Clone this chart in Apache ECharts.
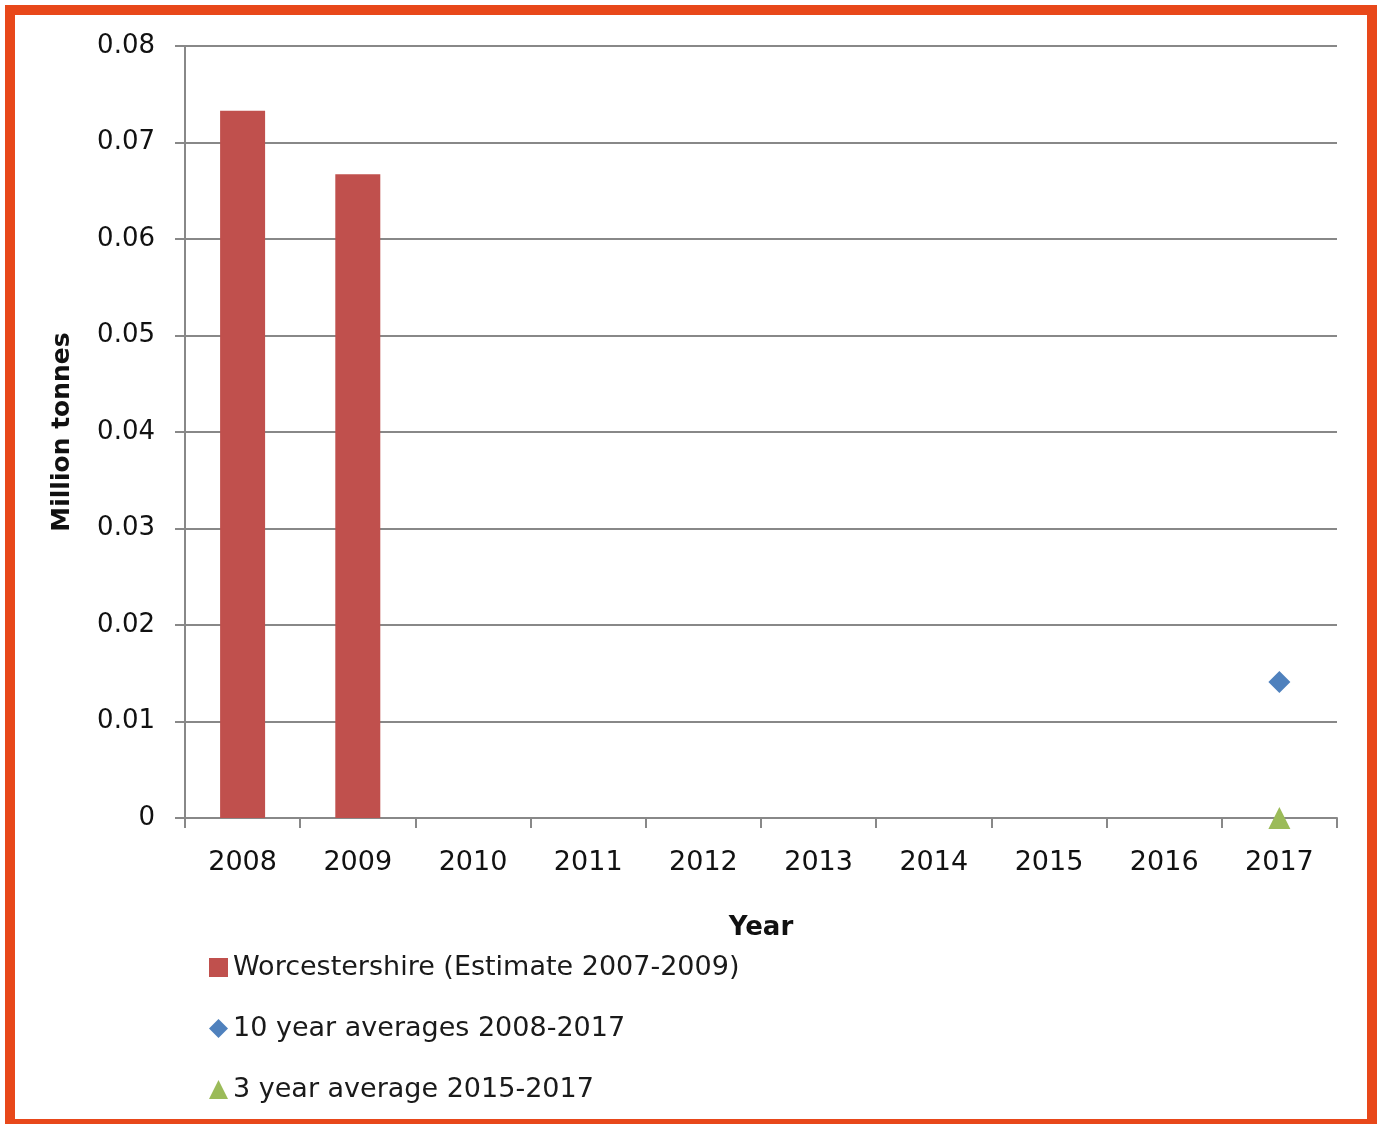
<!DOCTYPE html>
<html>
<head>
<meta charset="utf-8">
<script src="https://cdn.jsdelivr.net/npm/echarts@6/dist/echarts.min.js"></script>
<style>
  html, body { margin: 0; padding: 0; background: #fff; overflow: hidden; }
  #frame {
    position: absolute; left: 5px; top: 5px;
    width: 1372px; height: 1124px;
    box-sizing: border-box;
    border: 10px solid #E8481A;
  }
  #chart { position: absolute; left: 0; top: 0; width: 1381px; height: 1124px; }
</style>
</head>
<body>
<div id="chart"></div>
<div id="frame"></div>
<script>
  // years on the x axis
  const years = ['2008', '2009', '2010', '2011', '2012', '2013', '2014', '2015', '2016', '2017']
  // million tonnes
  const worcsEstimate = [0.0733, 0.0667, null, null, null, null, null, null, null, null]
  const tenYearAvg = [null, null, null, null, null, null, null, null, null, 0.0141]
  const threeYearAvg = [null, null, null, null, null, null, null, null, null, 0]
  const seriesNames = ['Worcestershire (Estimate 2007-2009)', '10 year averages 2008-2017', '3 year average 2015-2017']

  const font = 'DejaVu Sans'
  const gray = '#888888'

  const chart = echarts.init(document.getElementById('chart'))
  chart.setOption({
    animation: false,
    textStyle: { fontFamily: font },
    grid: { left: 185, right: 44, top: 46, bottom: 306 },
    legend: {
      orient: 'vertical',
      left: 204,
      top: 949,
      itemGap: 34,
      itemWidth: 19,
      itemHeight: 19,
      textStyle: { fontSize: 27, color: '#1a1a1a', fontFamily: font },
      data: [
        { name: seriesNames[0], icon: 'rect' },
        { name: seriesNames[1], icon: 'diamond' },
        { name: seriesNames[2], icon: 'triangle' }
      ]
    },
    xAxis: {
      type: 'category',
      data: years,
      name: 'Year',
      nameLocation: 'middle',
      nameGap: 97,
      nameTextStyle: { fontSize: 26, fontWeight: 'bold', color: '#111' },
      axisLine: { lineStyle: { color: gray, width: 2 } },
      axisTick: { show: true, length: 10, lineStyle: { color: gray, width: 2 } },
      axisLabel: { fontSize: 27, color: '#111', margin: 31 }
    },
    yAxis: {
      type: 'value',
      min: 0,
      max: 0.08,
      interval: 0.01,
      name: 'Million tonnes',
      nameLocation: 'middle',
      nameRotate: 90,
      nameGap: 110,
      nameTextStyle: { fontSize: 25, fontWeight: 'bold', color: '#111' },
      axisLine: { show: true, lineStyle: { color: gray, width: 2 } },
      axisTick: { show: true, length: 10, lineStyle: { color: gray, width: 2 } },
      axisLabel: { fontSize: 26, color: '#111', margin: 30 },
      splitLine: { lineStyle: { color: gray, width: 2 } }
    },
    series: [
      {
        name: seriesNames[0],
        type: 'bar',
        data: worcsEstimate,
        barWidth: 45,
        itemStyle: { color: '#C0504D' }
      },
      {
        name: seriesNames[1],
        type: 'scatter',
        data: tenYearAvg,
        symbol: 'diamond',
        symbolSize: 22,
        itemStyle: { color: '#4F81BD', opacity: 1 }
      },
      {
        name: seriesNames[2],
        type: 'scatter',
        data: threeYearAvg,
        symbol: 'triangle',
        symbolSize: 22,
        itemStyle: { color: '#9BBB59', opacity: 1 }
      }
    ]
  })
</script>
</body>
</html>
